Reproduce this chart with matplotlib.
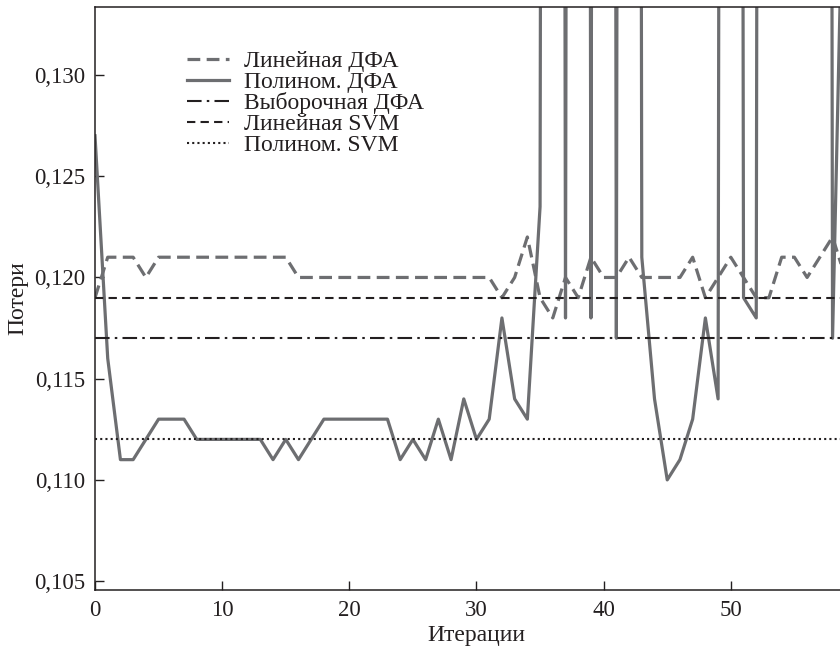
import matplotlib
matplotlib.use("Agg")
import matplotlib.pyplot as plt


iterations = list(range(60))

# Линейная ДФА
lin_dfa = [0.119, 0.121, 0.121, 0.121, 0.120,
           0.121, 0.121, 0.121, 0.121, 0.121, 0.121, 0.121, 0.121, 0.121, 0.121, 0.121,
           0.120, 0.120, 0.120, 0.120, 0.120, 0.120, 0.120, 0.120, 0.120, 0.120, 0.120,
           0.120, 0.120, 0.120, 0.120, 0.120,
           0.119, 0.120, 0.122, 0.119, 0.118, 0.120, 0.119, 0.121, 0.120, 0.120,
           0.121, 0.120, 0.120, 0.120, 0.120, 0.121, 0.119, 0.120, 0.121, 0.120,
           0.119, 0.119, 0.121, 0.121, 0.120, 0.121, 0.122, 0.120]

# Полином. ДФА (values far above the visible range are only estimates)
poly_dfa = [0.127, 0.116, 0.111, 0.111, 0.112, 0.113, 0.113, 0.113,
            0.112, 0.112, 0.112, 0.112, 0.112, 0.112,
            0.111, 0.112, 0.111, 0.112,
            0.113, 0.113, 0.113, 0.113, 0.113, 0.113,
            0.111, 0.112, 0.111, 0.113, 0.111, 0.114, 0.112, 0.113,
            0.118, 0.114, 0.113, 0.1235, 0.5, 0.118, 0.5, 0.118, 0.5, 0.117,
            0.5, 0.121, 0.114, 0.110, 0.111, 0.113, 0.118, 0.114, 0.5, 0.119,
            0.118, 0.5, 0.5, 0.5, 0.5, 0.5, 0.117, 0.145]

sample_dfa = 0.117   # Выборочная ДФА
lin_svm = 0.119      # Линейная SVM
poly_svm = 0.112     # Полином. SVM

labels = ["Линейная ДФА", "Полином. ДФА", "Выборочная ДФА", "Линейная SVM", "Полином. SVM"]

x_ticks = [0, 10, 20, 30, 40, 50]
y_ticks = [0.105, 0.110, 0.115, 0.120, 0.125, 0.130]
y_tick_labels = ["0,105", "0,110", "0,115", "0,120", "0,125", "0,130"]

GRAY = "#6d6e71"
BLACK = "#231f20"


def main():
    plt.rcParams["font.family"] = ["Liberation Serif", "DejaVu Serif"]
    plt.rcParams["font.size"] = 17

    fig = plt.figure(figsize=(8.4, 6.5), dpi=100)
    ax = fig.add_axes([0.1131, 0.0923, 0.9083, 0.8969])

    ax.plot(iterations, lin_dfa, color=GRAY, lw=2.3, linestyle=(0, (4, 2)), label=labels[0])
    ax.plot(iterations, poly_dfa, color=GRAY, lw=2.3, label=labels[1])
    ax.axhline(sample_dfa, color=BLACK, lw=1.5, linestyle=(0, (7, 2.5, 1.2, 2.5)), label=labels[2])
    ax.axhline(lin_svm, color=BLACK, lw=1.5, linestyle=(0, (4, 2.5)), label=labels[3])
    ax.axhline(poly_svm, color=BLACK, lw=1.5, linestyle=(0, (1, 1.5)), label=labels[4])

    ax.set_xlim(0, 60)
    ax.set_ylim(0.10456, 0.13336)
    ax.set_xticks(x_ticks)
    ax.set_yticks(y_ticks)
    ax.set_yticklabels(y_tick_labels)

    ax.set_xlabel("Итерации", color=BLACK, labelpad=3)
    ax.set_ylabel("Потери", color=BLACK, labelpad=4)

    ax.tick_params(direction="in", length=6.5, width=1.0, color=BLACK, labelcolor=BLACK,
                   labelsize=16.5, pad=7)
    ax.spines["right"].set_visible(False)
    for s in ["left", "bottom", "top"]:
        ax.spines[s].set_color(BLACK)
        ax.spines[s].set_linewidth(1.1)

    leg = ax.legend(loc="upper left", bbox_to_anchor=(0.12, 0.925), frameon=False,
                    fontsize=17, handlelength=1.8, handletextpad=0.65, labelspacing=-0.03,
                    borderpad=0, borderaxespad=0)
    for t in leg.get_texts():
        t.set_color(BLACK)

    fig.savefig("out.png", dpi=100)
    plt.close(fig)


if __name__ == "__main__":
    main()
